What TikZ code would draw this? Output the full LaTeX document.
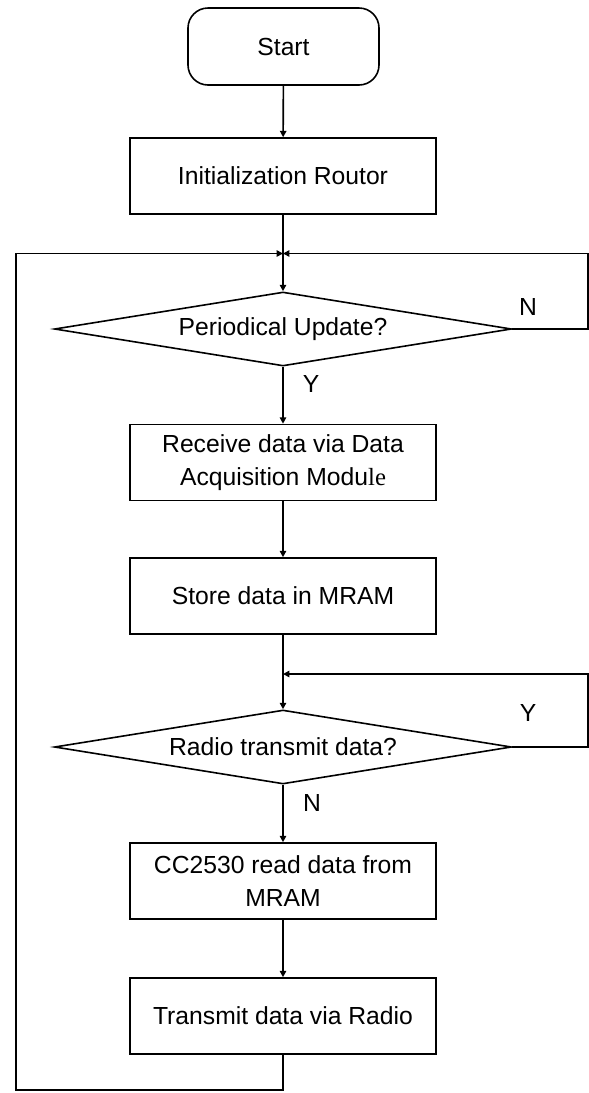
\documentclass[tikz,border=0pt]{standalone}
\usepackage{fontspec}
\setmainfont{Liberation Sans}
\newfontfamily\timesfont{Liberation Serif}
\usetikzlibrary{shapes.geometric,arrows.meta}

\tikzset{
  flow/.style={line width=0.8pt},
  arr/.style={flow,-{Triangle[length=3.2pt,width=3.2pt]}},
  terminal/.style={draw,flow,rounded corners=10pt,minimum width=95.5pt,minimum height=38.5pt,inner sep=0pt},
  process/.style={draw,flow,minimum width=153pt,minimum height=38pt,inner sep=0pt,align=center},
  decision/.style={draw,flow,diamond,aspect=6.2,minimum width=228.5pt,minimum height=37pt,inner sep=0pt},
  lbl/.style={inner sep=0pt}
}

\begin{document}
\begin{tikzpicture}[x=0.5pt,y=-0.5pt,font=\fontsize{12.35pt}{16.7pt}\selectfont]
\useasboundingbox (0,0) rectangle (589,1093);

% main column
\node[terminal] (start) at (283.5,46.5) {Start};
\node[process]  (init)  at (283,176) {Initialization Routor};
\node[decision] (upd)   at (283,329) {Periodical Update?};
\node[process]  (recv)  at (283,462.5) {Receive data via Data\\Acquisition Modu{\timesfont le}};
\node[process]  (store) at (283,596) {Store data in MRAM};
\node[decision] (radio) at (283,747) {Radio transmit data?};
\node[process]  (read)  at (283,881) {CC2530 read data from\\MRAM};
\node[process]  (tx)    at (283,1016) {Transmit data via Radio};

% loop junctions and corner points
\coordinate (j1) at (283,253.5);
\coordinate (j2) at (283,674);
\coordinate (bot) at (283,1090);
\coordinate (lb) at (16,1090);
\coordinate (lt) at (16,253.5);
\coordinate (r1) at (588,329);
\coordinate (r1t) at (588,253.5);
\coordinate (r2) at (588,747);
\coordinate (r2t) at (588,674);

% straight flow
\draw[arr] (start) -- (init);
\draw[arr] (init) -- (upd);
\draw[arr] (upd) -- (recv);
\draw[arr] (recv) -- (store);
\draw[arr] (store) -- (radio);
\draw[arr] (radio) -- (read);
\draw[arr] (read) -- (tx);

% loops back to the junctions
\draw[arr] (upd.east) -- (r1) -- (r1t) -- (j1);
\draw[arr] (radio.east) -- (r2) -- (r2t) -- (j2);
\draw[arr] (tx.south) -- (bot) -- (lb) -- (lt) -- (j1);

% branch labels
\node[lbl] (n1) at (528,307) {N};
\node[lbl] (y1) at (311,384) {Y};
\node[lbl] (y2) at (528,713) {Y};
\node[lbl] (n2) at (312,803) {N};
\end{tikzpicture}
\end{document}
